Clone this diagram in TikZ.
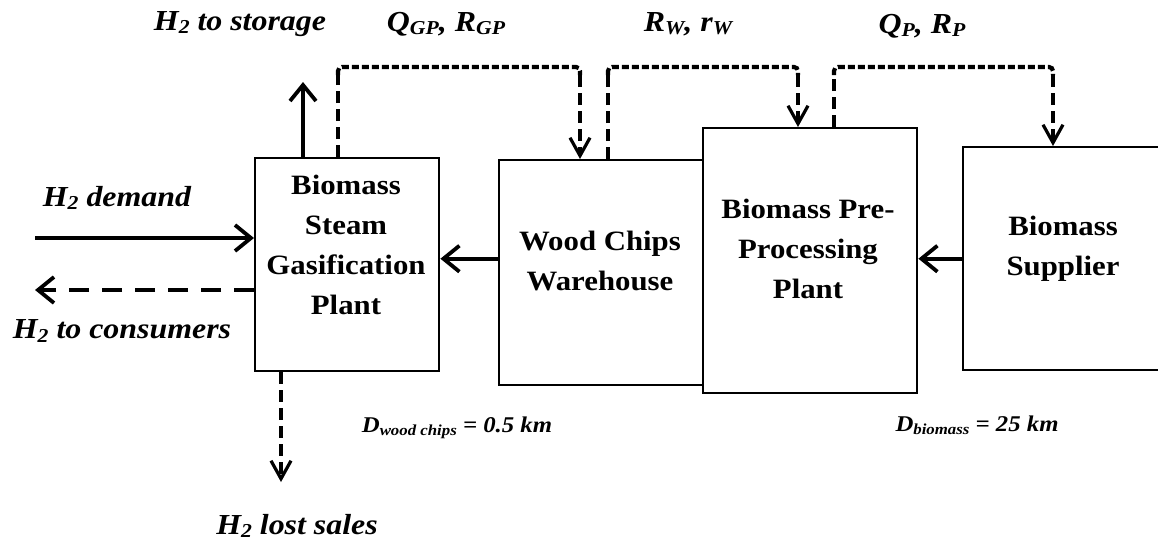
\documentclass[tikz,border=0pt]{standalone}
\usepackage{fontspec}
\usepackage{graphicx}
\setmainfont{Liberation Serif}[FakeStretch=1.1]
\usetikzlibrary{arrows.meta}
\newcommand\lsub[1]{\raisebox{-0.12em}{\scalebox{0.68}{#1}}}
\begin{document}
\begin{tikzpicture}[x=1pt,y=-1pt,
  box/.style={draw, line width=2.4pt, fill=white, inner sep=0pt, anchor=north west},
  boxtext/.style={font=\fontsize{28}{40}\selectfont\bfseries, align=center, inner sep=0pt},
  lbl/.style={font=\fontsize{29}{32}\selectfont\bfseries\itshape, inner sep=0pt},
  dlbl/.style={font=\fontsize{22.5}{26}\selectfont\bfseries\itshape, inner sep=0pt},
  flow/.style={line width=3.8pt, -{Straight Barb[length=16pt,width=26pt]}},
  dflow/.style={line width=3.8pt, dash pattern=on 20pt off 13pt, -{Straight Barb[length=16pt,width=26pt]}},
  vdash/.style={line width=3.2pt, dash pattern=on 12pt off 6pt},
  vdasharr/.style={line width=3.2pt, dash pattern=on 12pt off 6pt, -{Straight Barb[length=18pt,width=20pt]}},
  hdash/.style={line width=4.2pt, dash pattern=on 7pt off 3pt, rounded corners=4pt},
]
\useasboundingbox[fill=white] (0,0) rectangle (1158,547);

% boxes
\node[box, minimum width=184pt, minimum height=213pt] (gp) at (254,157) {};
\node[box, minimum width=204pt, minimum height=225pt] (wh) at (498,159) {};
\node[box, minimum width=214pt, minimum height=265pt] (pp) at (702,127) {};
\node[box, minimum width=206pt, minimum height=223pt] (bs) at (962,146) {};

% box texts
\node[boxtext] (gpt) at (346,245) {Biomass\\Steam\\Gasification\\Plant};
\node[boxtext] (wht) at (600,261) {Wood Chips\\Warehouse};
\node[boxtext] (ppt) at (808,249) {Biomass Pre-\\Processing\\Plant};
\node[boxtext] (bst) at (1063,249) {Biomass\\Supplier};

% material flows
\coordinate (a1) at ([yshift=14pt]wh.west);
\draw[flow] (a1) -- (a1 -| gp.east);
\draw[flow] (bs.west) -- (bs.west -| pp.east);

% hydrogen flows
\coordinate (dem) at (35,238);
\coordinate (con) at (35,290);
\coordinate (sto) at (303,82);
\coordinate (lost) at (281,482);
\draw[flow] (dem) -- (dem -| gp.west);
\draw[dflow] (con -| gp.west) -- (con);
\draw[flow] (sto |- gp.north) -- (sto);
\draw[vdasharr] (lost |- gp.south) -- (lost);

% information loops
\coordinate (l1a) at (338,67); \coordinate (l1b) at (580,67);
\coordinate (l2a) at (608,67); \coordinate (l2b) at (798,67);
\coordinate (l3a) at (834,67); \coordinate (l3b) at (1053,67);

\draw[vdash] (l1a |- gp.north) -- ([yshift=-8pt]l1a);
\draw[hdash] ([yshift=-8pt]l1a) -- (l1a) -- (l1b) -- ([yshift=-8pt]l1b);
\draw[vdasharr] ([yshift=-8pt]l1b) -- (l1b |- wh.north);

\draw[vdash] (l2a |- wh.north) -- ([yshift=-8pt]l2a);
\draw[hdash] ([yshift=-8pt]l2a) -- (l2a) -- (l2b) -- ([yshift=-8pt]l2b);
\draw[vdasharr] ([yshift=-8pt]l2b) -- (l2b |- pp.north);

\draw[vdash] (l3a |- pp.north) -- ([yshift=-8pt]l3a);
\draw[hdash] ([yshift=-8pt]l3a) -- (l3a) -- (l3b) -- ([yshift=-8pt]l3b);
\draw[vdasharr] ([yshift=-8pt]l3b) -- (l3b |- bs.north);

% labels
\node[lbl] (lsto) at (240,24) {H\lsub{2} to storage};
\node[lbl] (lq1) at (446,24) {Q\lsub{GP}, R\lsub{GP}};
\node[lbl] (lq2) at (688,24) {R\lsub{W}, r\lsub{W}};
\node[lbl] (lq3) at (922,26) {Q\lsub{P}, R\lsub{P}};
\node[lbl] (ldem) at (117,198) {H\lsub{2} demand};
\node[lbl] (lcon) at (122,331) {H\lsub{2} to consumers};
\node[lbl] (llost) at (297,526) {H\lsub{2} lost sales};
\node[dlbl] (ldw) at (457,428) {D\lsub{wood chips} = 0.5 km};
\node[dlbl] (ldb) at (977,425) {D\lsub{biomass} = 25 km};
\end{tikzpicture}
\end{document}
